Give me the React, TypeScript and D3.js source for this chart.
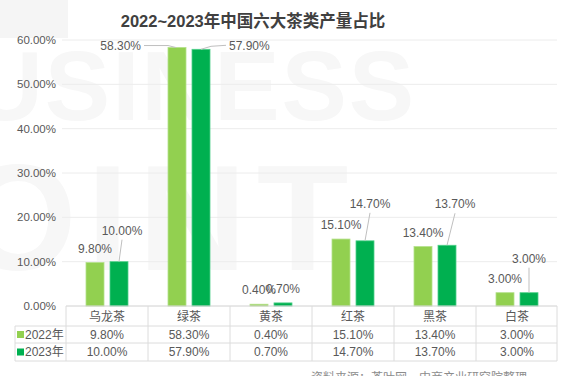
import React from "react";
import * as d3 from "d3";

const categories = ["乌龙茶", "绿茶", "黄茶", "红茶", "黑茶", "白茶"];
const series2022 = [9.8, 58.3, 0.4, 15.1, 13.4, 3.0];
const series2023 = [10.0, 57.9, 0.7, 14.7, 13.7, 3.0];
const seriesNames = ["2022年", "2023年"];
const yTicks = [0, 10, 20, 30, 40, 50, 60];
const title = "2022~2023年中国六大茶类产量占比";
const source = "资料来源：茶叶网，中商产业研究院整理";

// label layout offsets for the 2023 labels (dx, dy from bar top), leader line flag
const label2023Offsets: [number, number, boolean][] = [
  [3, -31, true],
  [0, 0, true],
  [0, -14, false],
  [5, -37, true],
  [8, -41, true],
  [0, -34, true],
];

const W = 577;
const H = 376;
const FONT = "'Liberation Sans', Arial, 'Noto Sans CJK SC', sans-serif";
const C2022 = "#92D050";
const C2023 = "#00B050";
const TXT = "#595959";
const GRID = "#ececec";
const BORDER = "#dcdcdc";

const fmt = (v: number) => v.toFixed(2) + "%";

export default function App() {
  const x = d3.scaleBand<string>().domain(categories).range([66, 558]).padding(0);
  const y = d3.scaleLinear().domain([0, 60]).range([306, 40]);
  const bw = 18;
  const gap = 3;
  const cx = (c: string) => (x(c) as number) + x.bandwidth() / 2;

  const rowTop = [306, 326, 343, 361];
  const tableLeft = 15;

  return (
    <div style={{ position: "absolute", left: 0, top: 0 }}>
      <svg width={W} height={H} style={{ display: "block", fontFamily: FONT }}>
        <rect x={0} y={0} width={W} height={H} fill="#fff" />
        {/* watermark */}
        <rect x={0} y={0} width={68} height={38} fill="#f5f5f5" />
        <text x={-28} y={120} fontSize={98} fontWeight="bold" fill="#f7f7f7" letterSpacing={2}>
          USINESS
        </text>
        <text x={-40} y={270} fontSize={150} fontWeight="bold" fill="#f7f7f7" letterSpacing={10}>
          OINT
        </text>

        {/* title */}
        <text x={253} y={27} textAnchor="middle" fontSize={16.5} fontWeight="bold" fill="#404040">
          {title}
        </text>

        {/* gridlines + y ticks */}
        {yTicks.map((t) => (
          <g key={t}>
            {t > 0 && <line x1={62} x2={557} y1={y(t)} y2={y(t)} stroke={GRID} strokeWidth={1} />}
            <text x={56} y={y(t)} dy="0.35em" textAnchor="end" fontSize={11.5} fill={TXT}>
              {fmt(t)}
            </text>
          </g>
        ))}

        {/* bars */}
        {categories.map((c, i) => {
          const c0 = cx(c);
          return (
            <g key={c}>
              <rect x={c0 - gap - bw} y={y(series2022[i])} width={bw} height={y(0) - y(series2022[i])} fill={C2022} stroke="#b3e08a" strokeWidth={0.8} />
              <rect x={c0 + gap} y={y(series2023[i])} width={bw} height={y(0) - y(series2023[i])} fill={C2023} stroke="#4fd08a" strokeWidth={0.8} />
            </g>
          );
        })}

        {/* value labels */}
        {categories.map((c, i) => {
          const c0 = cx(c);
          const b1 = c0 - gap - bw / 2;
          const b2 = c0 + gap + bw / 2;
          const t1 = y(series2022[i]);
          const t2 = y(series2023[i]);
          if (i === 1) {
            return (
              <g key={c}>
                <line x1={b1 - 1} y1={t1} x2={b1 - 9} y2={t1 - 2} stroke="#bfbfbf" />
                <line x1={b1 - 9} y1={t1 - 2} x2={b1 - 33} y2={t1 - 2} stroke="#bfbfbf" />
                <text x={b1 - 36} y={t1 - 2} dy="0.35em" textAnchor="end" fontSize={12} fill={TXT}>
                  {fmt(series2022[i])}
                </text>
                <line x1={b2} y1={t2} x2={b2 + 10} y2={t2 - 3} stroke="#bfbfbf" />
                <line x1={b2 + 10} y1={t2 - 3} x2={b2 + 25} y2={t2 - 4} stroke="#bfbfbf" />
                <text x={b2 + 28} y={t2 - 4} dy="0.35em" textAnchor="start" fontSize={12} fill={TXT}>
                  {fmt(series2023[i])}
                </text>
              </g>
            );
          }
          const [dx, dy, lead] = label2023Offsets[i];
          return (
            <g key={c}>
              <text x={b1} y={t1 - 14} dy="0.35em" textAnchor="middle" fontSize={12} fill={TXT}>
                {fmt(series2022[i])}
              </text>
              {lead && <line x1={b2 + dx} y1={t2 + dy + 9} x2={b2} y2={t2} stroke="#bfbfbf" />}
              <text x={b2 + dx} y={t2 + dy} dy="0.35em" textAnchor="middle" fontSize={12} fill={TXT}>
                {fmt(series2023[i])}
              </text>
            </g>
          );
        })}

        {/* data table */}
        <g>
          <line x1={66} x2={557} y1={rowTop[0]} y2={rowTop[0]} stroke="#d0d0d0" />
          {rowTop.slice(1).map((r) => (
            <line key={r} x1={tableLeft} x2={557} y1={r} y2={r} stroke={BORDER} />
          ))}
          <line x1={tableLeft} x2={tableLeft} y1={rowTop[1]} y2={rowTop[3]} stroke={BORDER} />
          {categories.map((c) => (
            <line key={c} x1={x(c) as number} x2={x(c) as number} y1={rowTop[0]} y2={rowTop[3]} stroke={BORDER} />
          ))}
          <line x1={557} x2={557} y1={rowTop[0]} y2={rowTop[3]} stroke={BORDER} />

          {categories.map((c, i) => (
            <g key={c}>
              <text x={cx(c)} y={(rowTop[0] + rowTop[1]) / 2 + 1} dy="0.35em" textAnchor="middle" fontSize={12} fill={TXT}>
                {c}
              </text>
              <text x={cx(c)} y={(rowTop[1] + rowTop[2]) / 2} dy="0.35em" textAnchor="middle" fontSize={12} fill={TXT}>
                {fmt(series2022[i])}
              </text>
              <text x={cx(c)} y={(rowTop[2] + rowTop[3]) / 2} dy="0.35em" textAnchor="middle" fontSize={12} fill={TXT}>
                {fmt(series2023[i])}
              </text>
            </g>
          ))}
          {seriesNames.map((s, i) => {
            const yc = (rowTop[i + 1] + rowTop[i + 2]) / 2;
            return (
              <g key={s}>
                <rect x={17} y={yc - 3.5} width={7} height={7} fill={i === 0 ? C2022 : C2023} />
                <text x={25} y={yc} dy="0.35em" fontSize={12} fill={TXT}>
                  {s}
                </text>
              </g>
            );
          })}
        </g>

        {/* source */}
        <text x={419} y={382} textAnchor="middle" fontSize={12} fill="#8c8c8c">
          {source}
        </text>
      </svg>
    </div>
  );
}
